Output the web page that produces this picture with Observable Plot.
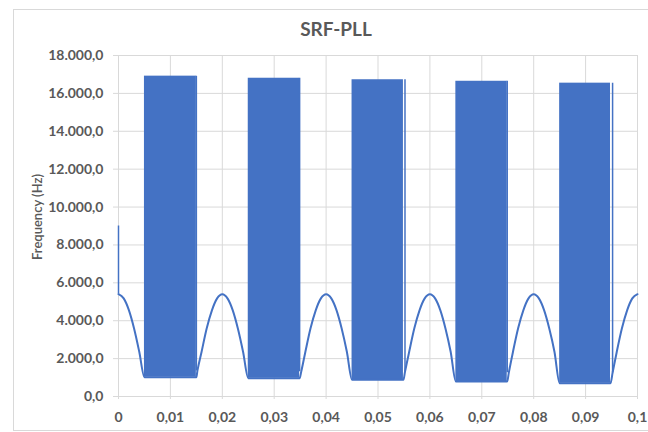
<!DOCTYPE html>
<html><head><meta charset="utf-8">
<script src="https://cdn.jsdelivr.net/npm/d3@7"></script>
<script src="https://cdn.jsdelivr.net/npm/@observablehq/plot@0.6"></script>
<style>
body{margin:0;background:#fff;}
#wrap{position:relative;width:648px;height:432px;overflow:hidden;}
#frame{position:absolute;left:13px;top:9px;width:640px;height:420px;border:1px solid #d9d9d9;pointer-events:none;}
</style></head><body><div id="wrap"><div id="frame"></div></div>
<script>
const title = "SRF-PLL";
const yLabel = "Frequency (Hz)";
const xTicks = [0,0.01,0.02,0.03,0.04,0.05,0.06,0.07,0.08,0.09,0.1];
const yTicks = [0,2000,4000,6000,8000,10000,12000,14000,16000,18000];

// dense oscillation blocks (drawn as filled bands)
const blockStart = [0.005,0.025,0.045,0.065,0.085];
const blockEnd   = [0.015,0.0349,0.0549,0.0749,0.0948];
const blockLow   = [1020,966,880,790,700];
const blockHigh  = [16910,16800,16720,16640,16540];

// last swing at the end of each block
const tailT    = [0.015,0.0349,0.0552,0.0749,0.0952];
const tailLow  = [1350,1300,1300,1250,1250];
const tailHigh = [16910,16800,16720,16640,16540];

// start-up spike at t = 0
const spikeT = [0];
const spikeLow = [5400];
const spikeHigh = [9000];

// smooth frequency humps between the blocks
const lineT = [
  0,0.001,0.002,0.003,0.004,0.005,
  0.015,0.0152,0.016,0.017,0.018,0.019,0.020,0.021,0.022,0.023,0.024,0.025,
  0.0349,0.0352,0.036,0.037,0.038,0.039,0.040,0.041,0.042,0.043,0.044,0.045,
  0.0549,0.0552,0.056,0.057,0.058,0.059,0.060,0.061,0.062,0.063,0.064,0.065,
  0.0749,0.0752,0.076,0.077,0.078,0.079,0.080,0.081,0.082,0.083,0.084,0.085,
  0.0948,0.0952,0.096,0.097,0.098,0.099,0.1
];
const lineF = [
  5400,5180,4560,3590,2360,1020,
  1020,1350,2350,3600,4550,5180,5400,5180,4560,3590,2360,966,
  966,1300,2350,3600,4550,5180,5400,5180,4560,3590,2360,880,
  880,1300,2350,3600,4550,5180,5400,5180,4560,3590,2360,790,
  790,1250,2350,3600,4550,5180,5400,5180,4560,3590,2360,700,
  700,1250,2350,3600,4550,5180,5400
];

const loc = d3.formatLocale({decimal:",", thousands:".", grouping:[3], currency:["",""]});
const fy = loc.format(",.1f");
const fx = d => d === 0 ? "0" : loc.format(".2~f")(d);
const blue = "#4472C4";
const grid = "#d9d9d9";
const txt = "#595959";

const plot = Plot.plot({
  width: 648, height: 432,
  marginLeft: 118, marginRight: 11, marginTop: 55, marginBottom: 36,
  style: {fontFamily: "Lato, 'Open Sans', sans-serif", background: "transparent"},
  x: {domain: [0, 0.1], label: null},
  y: {domain: [0, 18000], label: null},
  marks: [
    Plot.gridX(xTicks, {stroke: grid, strokeOpacity: 1}),
    Plot.gridY(yTicks, {stroke: grid, strokeOpacity: 1}),
    Plot.ruleY([0], {stroke: grid}),
    Plot.axisX(xTicks, {tickFormat: fx, tickSize: 3, tickPadding: 13, stroke: grid, fill: txt, fontSize: 14, fontWeight: "bold", label: null}),
    Plot.axisY(yTicks, {tickFormat: fy, tickSize: 5, tickPadding: 10, stroke: grid, fill: txt, fontSize: 14, fontWeight: "bold", label: null}),
    Plot.rect(blockStart, {x1: blockStart, x2: blockEnd, y1: blockLow, y2: blockHigh, fill: blue}),
    Plot.ruleX(tailT, {x: tailT, y1: tailLow, y2: tailHigh, stroke: blue, strokeWidth: 1.5}),
    Plot.ruleX(spikeT, {x: spikeT, y1: spikeLow, y2: spikeHigh, stroke: blue, strokeWidth: 1.5}),
    Plot.line(lineT, {x: lineT, y: lineF, stroke: blue, strokeWidth: 2, curve: "monotone-x"}),
    Plot.text([title], {frameAnchor: "top", dx: -42, dy: -33, text: d => d, fontSize: 19, fontWeight: "bold", fill: txt}),
    Plot.text([yLabel], {frameAnchor: "left", textAnchor: "middle", dx: -81, dy: -9, rotate: -90, text: d => d, fontSize: 13, fontWeight: 600, fill: txt})
  ]
});
document.getElementById("wrap").prepend(plot);
</script>
</body></html>
